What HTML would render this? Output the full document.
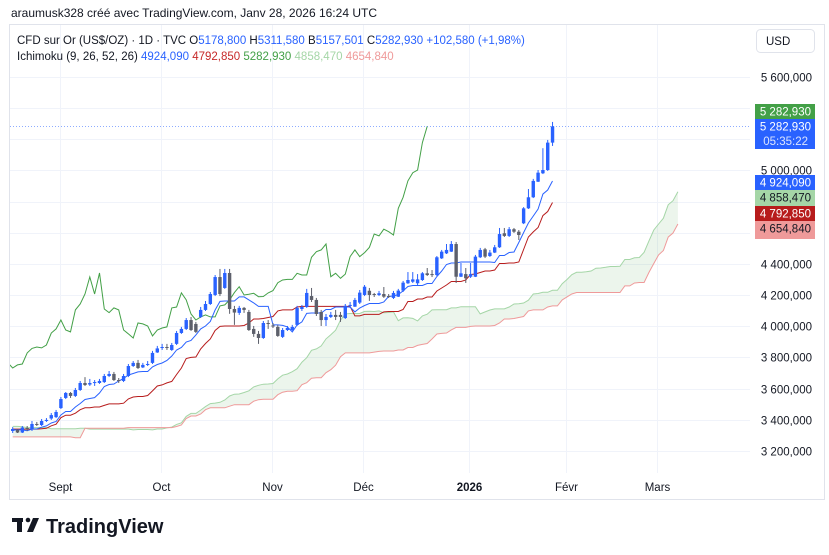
<!DOCTYPE html>
<html><head><meta charset="utf-8"><style>
html,body{margin:0;padding:0;background:#fff;width:829px;height:555px;overflow:hidden}
svg{display:block;font-family:"Liberation Sans",sans-serif}
</style></head><body>
<svg id="c" width="829" height="555" viewBox="0 0 829 555">
<text x="11" y="17" font-size="12" fill="#131722">araumusk328 créé avec TradingView.com, Janv 28, 2026 16:24 UTC</text>
<rect x="9.5" y="24.5" width="815" height="475" fill="none" stroke="#e0e3eb"/>
<g id="grid"></g>
<g id="plot" clip-path="url(#clp)"></g>
<defs><clipPath id="clp"><rect x="10" y="25" width="740" height="448"/></clipPath></defs>
<g id="axis"></g>
<g id="taxis"></g>
<g font-size="11.5">
<text x="17" y="44" fill="#131722">CFD sur Or (US$/OZ) · 1D · TVC  O<tspan fill="#2962ff">5178,800</tspan>  H<tspan fill="#2962ff">5311,580</tspan>  B<tspan fill="#2962ff">5157,501</tspan>  C<tspan fill="#2962ff">5282,930</tspan>  <tspan fill="#2962ff">+102,580 (+1,98%)</tspan></text>
<text x="17" y="60" fill="#131722">Ichimoku (9, 26, 52, 26)  <tspan fill="#2962ff">4924,090</tspan>  <tspan fill="#c62828">4792,850</tspan>  <tspan fill="#43a047">5282,930</tspan>  <tspan fill="#a5d6a7">4858,470</tspan>  <tspan fill="#ef9a9a">4654,840</tspan></text>
</g>
<rect x="756.5" y="29.5" width="58" height="23" rx="4" fill="#fff" stroke="#e0e3eb"/>
<text x="766" y="45" font-size="11.5" fill="#131722">USD</text>
<g id="tags" font-size="11.5"></g>
<g>
<rect x="12" y="518" width="11" height="4" fill="#131722"/>
<rect x="17" y="518" width="5" height="14" fill="#131722"/>
<circle cx="28" cy="520" r="2.3" fill="#131722"/>
<polygon points="33,518 39,518 33,532 27,532" fill="#131722"/>
<text x="46" y="533" font-size="20" font-weight="bold" fill="#131722">TradingView</text>
</g>
</svg>
<script>
const opens=[3328,3334,3318,3347,3341,3373,3366,3392,3408,3417,3475,3540,3572,3553,3591,3636,3626,3636,3636,3642,3681,3694,3655,3649,3681,3745,3765,3736,3752,3765,3832,3861,3867,3848,3887,3957,3983,4040,4015,4060,4105,4143,4201,4316,4246,4342,4111,4086,4118,4092,3983,3951,3925,4021,4005,3996,3932,3976,3976,4009,4111,4124,4194,4169,4092,4040,4060,4073,4073,4053,4131,4126,4152,4201,4228,4207,4201,4207,4194,4182,4190,4229,4276,4286,4276,4297,4340,4335,4329,4436,4468,4479,4528,4318,4335,4318,4318,4443,4494,4451,4473,4507,4597,4580,4623,4607,4661,4757,4828,4928,4982,5003,5178.8];
const highs=[3353,3341,3360,3360,3392,3386,3405,3411,3443,3463,3546,3578,3578,3604,3649,3674,3662,3655,3662,3694,3713,3707,3668,3694,3758,3777,3784,3765,3777,3842,3874,3887,3887,3893,3970,3996,4053,4060,4028,4124,4162,4220,4329,4368,4368,4368,4131,4131,4124,4105,4002,3970,4034,4040,4021,4009,3989,4002,4009,4131,4137,4240,4246,4182,4105,4079,4092,4105,4092,4143,4156,4182,4233,4265,4246,4214,4227,4252,4207,4227,4240,4291,4348,4348,4335,4348,4374,4361,4451,4490,4528,4547,4541,4406,4374,4406,4458,4503,4503,4490,4522,4631,4631,4637,4631,4618,4765,4881,4946,5003,5143,5196,5311.58];
const lows=[3315,3315,3315,3328,3328,3360,3360,3386,3399,3411,3469,3533,3540,3546,3585,3617,3617,3617,3630,3636,3674,3649,3636,3642,3674,3739,3726,3732,3745,3758,3829,3848,3848,3842,3880,3951,3976,3970,3957,4053,4098,4137,4194,4194,4240,4080,4009,4073,4086,3970,3932,3887,3919,3983,3989,3932,3925,3970,3970,4002,4098,4118,4156,4066,4002,4002,4053,4040,4028,4047,4118,4124,4143,4194,4163,4188,4194,4182,4182,4175,4188,4220,4272,4278,4265,4291,4323,4316,4323,4432,4464,4477,4278,4316,4278,4310,4316,4438,4438,4445,4470,4503,4573,4573,4599,4554,4656,4753,4823,4926,4977,4997,5157.5];
const closes=[3341,3318,3350,3344,3373,3370,3392,3399,3430,3450,3533,3572,3553,3591,3636,3623,3636,3642,3649,3681,3694,3655,3652,3681,3745,3765,3732,3752,3758,3829,3858,3867,3861,3880,3957,3983,4040,3976,3964,4105,4143,4207,4316,4207,4342,4111,4088,4118,4105,3976,3951,3925,4021,4015,4002,3938,3976,3989,3996,4118,4124,4214,4169,4079,4040,4060,4073,4060,4060,4131,4137,4169,4216,4254,4201,4205,4212,4190,4191,4214,4229,4280,4297,4301,4301,4340,4329,4329,4443,4479,4490,4528,4318,4340,4308,4335,4447,4490,4447,4473,4507,4592,4580,4623,4607,4586,4757,4828,4933,4986,5003,5178.8,5282.93];
const preHigh=[3400,3420,3410,3390,3380,3360,3350,3340,3330,3360,3380,3400,3420,3440,3430,3410,3390,3370,3350,3340,3330,3350,3360,3340,3320,3330,3350,3360,3370,3380,3390,3400,3410,3420,3430,3410,3380,3360,3350,3340,3330,3350,3370,3390,3400,3410,3400,3380,3370,3390,3410,3420,3400,3380,3360,3340,3350,3370,3390,3400,3380,3360,3350,3340,3360,3370,3380,3360,3350,3340,3350,3370,3380,3370,3360,3350,3350,3360];
const preLow=[3340,3360,3350,3330,3320,3300,3290,3280,3270,3300,3320,3340,3360,3380,3370,3140,3330,3310,3290,3280,3270,3290,3300,3280,3260,3270,3290,3300,3310,3320,3330,3340,3350,3360,3370,3350,3320,3300,3290,3280,3270,3290,3310,3330,3340,3350,3340,3320,3310,3330,3350,3360,3340,3320,3300,3280,3290,3310,3330,3340,3320,3300,3290,3280,3300,3310,3320,3300,3290,3280,3290,3310,3320,3310,3300,3290,3300,3310];
const priceTicks=[3200,3400,3600,3800,4000,4200,4400,4600,4800,5000,5200,5400,5600];
const monthLabels=["Sept","Oct","Nov","Déc","2026","Févr","Mars"];
const monthIdx=[9.8,30.8,53.8,72.7,94.7,114.8,133.6];

const NS="http://www.w3.org/2000/svg";
const xs=i=>12.7+i*4.82;
const ys=p=>77+(5600-p)*0.1558;
function mk(tag,attrs,parent){const e=document.createElementNS(NS,tag);for(const k in attrs)e.setAttribute(k,attrs[k]);parent.appendChild(e);return e;}
const fmt=v=>{const s=v.toFixed(3).replace('.',',');const [a,b]=s.split(',');return (a.length>3?a.slice(0,a.length-3)+' '+a.slice(-3):a)+','+b;};
const grid=document.getElementById('grid'),plot=document.getElementById('plot'),axis=document.getElementById('axis'),taxis=document.getElementById('taxis'),tags=document.getElementById('tags');

priceTicks.forEach(p=>{const y=Math.round(ys(p))+0.5;
 const l=mk('line',{x1:10,x2:750,y1:y,y2:y,stroke:'#f0f3fa'},grid);
 
 
 const t=mk('text',{x:812,y:y+4,'text-anchor':'end','font-size':11.5,fill:'#131722'},axis);
 
 
 t.textContent=fmt(p);
});
monthIdx.forEach((m,k)=>{const x=Math.round(xs(m))+0.5;
 const l=mk('line',{x1:x,x2:x,y1:25,y2:473,stroke:'#f0f3fa'},grid);
 
 
 const t=mk('text',{x:x,y:491,'text-anchor':'middle','font-size':11.5,fill:'#131722','font-weight':monthLabels[k]==='2026'?'bold':'normal'},taxis);
 
 
 t.textContent=monthLabels[k];
});

// Ichimoku
const H=preHigh.concat(highs),L=preLow.concat(lows),OFF=preHigh.length,N=closes.length;
const mid=(k,n)=>{let hi=-1e9,lo=1e9;for(let j=k-n+1;j<=k;j++){if(j<0)continue;hi=Math.max(hi,H[j]);lo=Math.min(lo,L[j]);}return (hi+lo)/2;};
const tenkan=[],kijun=[];for(let i=0;i<N;i++){tenkan.push(mid(i+OFF,9));kijun.push(mid(i+OFF,26));}
const spanA=[],spanB=[];for(let j=0;j<N+26;j++){const k=j-26+OFF;spanA.push((mid(k,9)+mid(k,26))/2);spanB.push(mid(k,52));}
const pts=(arr,sh)=>arr.map((v,i)=>xs(i+sh).toFixed(1)+','+ys(v).toFixed(1)).join(' ');
const cloud=mk('polygon',{points:pts(spanA,0)+' '+spanB.map((v,i)=>xs(i).toFixed(1)+','+ys(v).toFixed(1)).reverse().join(' '),fill:'rgba(67,160,71,0.1)'},plot);


const a=mk('polyline',{points:pts(spanA,0),fill:'none',stroke:'#a5d6a7','stroke-width':1},plot);


const b=mk('polyline',{points:pts(spanB,0),fill:'none',stroke:'#ef9a9a','stroke-width':1},plot);


const lag=mk('polyline',{points:closes.map((v,i)=>xs(i-26).toFixed(1)+','+ys(v).toFixed(1)).join(' '),fill:'none',stroke:'#43a047','stroke-width':1},plot);


const kj=mk('polyline',{points:pts(kijun,0),fill:'none',stroke:'#b71c1c','stroke-width':1},plot);


const tk=mk('polyline',{points:pts(tenkan,0),fill:'none',stroke:'#2962ff','stroke-width':1},plot);



// candles
for(let i=0;i<N;i++){const up=closes[i]>=opens[i];const col=up?'#2962ff':'#5d606b';const x=xs(i);
 const g=mk('g',{},plot);
 
 
 mk('line',{x1:x,x2:x,y1:ys(highs[i]),y2:ys(lows[i]),stroke:col,'stroke-width':1},g);
 const t=Math.min(ys(opens[i]),ys(closes[i]));const h=Math.max(1,Math.abs(ys(opens[i])-ys(closes[i])));
 mk('rect',{x:x-1.7,y:t,width:3.4,height:h,fill:col},g);
}
const lastY=ys(closes[N-1]);
const pl=mk('line',{x1:10,x2:750,y1:lastY,y2:lastY,stroke:'#2962ff','stroke-width':0.7,'stroke-dasharray':'1,2',opacity:0.7},plot);



// tags
const tagData=[[104,15,'#43a047','#fff',fmt(closes[N-1]),null],[119,30,'#2962ff','#fff',fmt(closes[N-1]),'05:35:22'],[175,15,'#2962ff','#fff','4 924,090',null],[190,16,'#a5d6a7','#131722','4 858,470',null],[206,15,'#b71c1c','#fff','4 792,850',null],[221,18,'#ef9a9a','#131722','4 654,840',null]];
tagData.forEach(d=>{const g=mk('g',{},tags);
 
 
 mk('rect',{x:755,y:d[0],width:60,height:d[1],fill:d[2]},g);
 const t=mk('text',{x:811,y:d[0]+11.5,'text-anchor':'end',fill:d[3]},g);t.textContent=d[4];
 if(d[5]){const t2=mk('text',{x:808,y:d[0]+26,'text-anchor':'end',fill:'#dbe4ff'},g);t2.textContent=d[5];}
});
</script>
</body></html>
